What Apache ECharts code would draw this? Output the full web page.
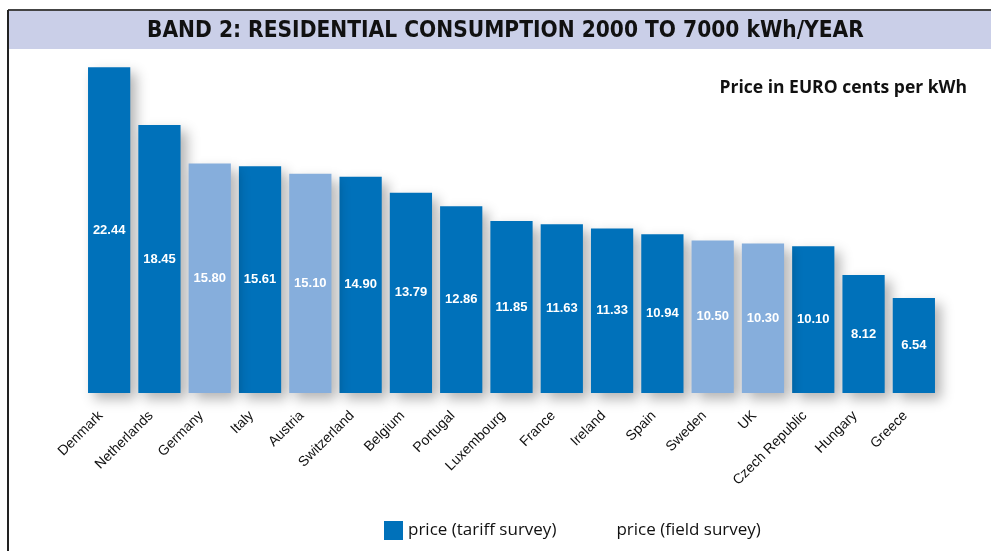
<!DOCTYPE html>
<html><head><meta charset="utf-8">
<script src="https://cdn.jsdelivr.net/npm/echarts@6/dist/echarts.min.js"></script>
<style>html,body{margin:0;padding:0;background:#fff}#c{width:991px;height:551px}</style>
</head><body><div id="c"></div>
<script>
const countries = ['Denmark','Netherlands','Germany','Italy','Austria','Switzerland','Belgium','Portugal','Luxembourg','France','Ireland','Spain','Sweden','UK','Czech Republic','Hungary','Greece'];
const prices = [22.44,18.45,15.80,15.61,15.10,14.90,13.79,12.86,11.85,11.63,11.33,10.94,10.50,10.30,10.10,8.12,6.54];
const fieldSurvey = ['Germany','Austria','Sweden','UK'];
const tariffName = 'price (tariff survey)';
const fieldName = 'price (field survey)';

const tariffData = countries.map((c,i)=> fieldSurvey.includes(c) ? '-' : prices[i]);
const fieldData = countries.map((c,i)=> fieldSurvey.includes(c) ? prices[i] : '-');

const DARK = '#0071BA', LIGHT = '#86AEDC';
const barStyle = c => ({color:c, shadowBlur:12, shadowOffsetX:6, shadowOffsetY:6, shadowColor:'rgba(0,0,0,0.3)'});
const lbl = {show:true, position:'inside', color:'#fff', fontWeight:'bold', fontSize:13, fontFamily:'Liberation Sans, Arial, sans-serif', formatter:p=>p.value.toFixed(2)};

const chart = echarts.init(document.getElementById('c'));
chart.setOption({
  animation:false,
  graphic:[
    {type:'rect', shape:{x:9,y:10,width:990,height:39}, style:{fill:'#CACFE8'}, z:-1},
    {type:'line', shape:{x1:8,y1:10,x2:991,y2:10}, style:{stroke:'#444',lineWidth:2}},
    {type:'line', shape:{x1:8,y1:10,x2:8,y2:551}, style:{stroke:'#222',lineWidth:2}},
    {type:'text', left:147, top:20, style:{text:'BAND 2: RESIDENTIAL CONSUMPTION 2000 TO 7000 kWh/YEAR', fill:'#111', font:'bold 22.5px "Liberation Sans Narrow", "DejaVu Sans Condensed", sans-serif'}},
    {type:'text', right:24, top:79, style:{text:'Price in EURO cents per kWh', fill:'#111', font:'bold 17.5px "Open Sans", sans-serif'}}
  ],
  legend:{
    bottom:6, left:379, itemWidth:19, itemHeight:19, itemGap:36,
    textStyle:{fontSize:17, fontFamily:'"Open Sans", sans-serif', color:'#111'},
    data:[{name:tariffName, itemStyle:{color:DARK}}, {name:fieldName, itemStyle:{color:'rgba(0,0,0,0)'}, icon:'rect'}],
    icon:'rect'
  },
  grid:{left:84, right:52, top:30, bottom:158},
  xAxis:{type:'category', data:countries, axisLine:{show:false}, axisTick:{show:false},
    axisLabel:{rotate:45, interval:0, fontSize:14, color:'#111', fontFamily:'Liberation Sans, Arial, sans-serif', margin:12, padding:[0,12,0,0]}},
  yAxis:{type:'value', min:0, max:25, show:false, splitLine:{show:false}},
  series:[
    {name:tariffName, type:'bar', stack:'a', data:tariffData, barCategoryGap:'16%', itemStyle:barStyle(DARK), label:lbl},
    {name:fieldName, type:'bar', stack:'a', data:fieldData, barCategoryGap:'16%', itemStyle:barStyle(LIGHT), label:lbl}
  ]
});
</script></body></html>
